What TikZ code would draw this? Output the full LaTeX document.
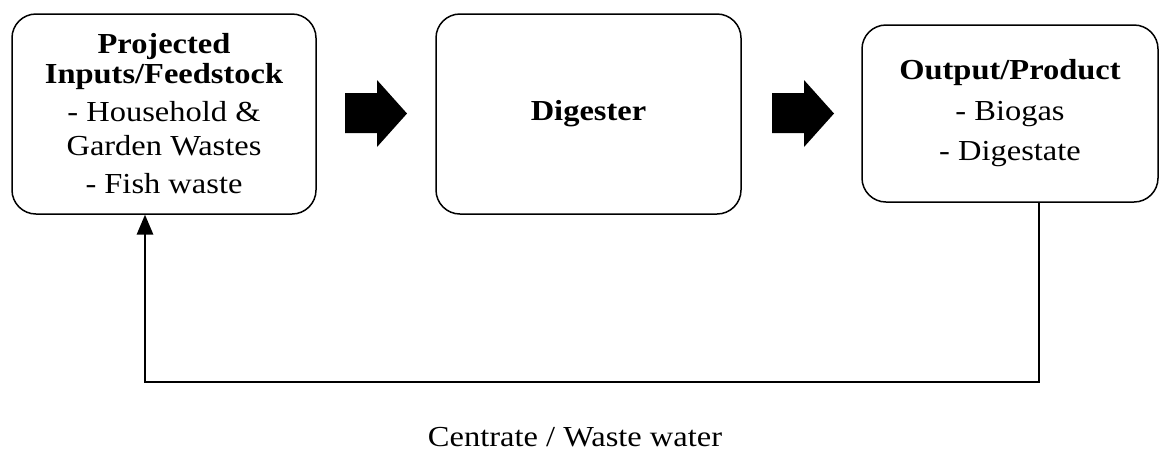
\documentclass[tikz,border=0pt]{standalone}
\usepackage{fontspec}
\setmainfont{Liberation Serif}[FakeStretch=1.12]
\usetikzlibrary{arrows}

\tikzset{
  box/.style={draw,rounded corners=12pt,line width=0.75pt,align=center,
    font=\fontsize{14.5}{15}\selectfont},
  feed/.style={line width=1.3pt,-triangle 45},
}

\begin{document}
\begin{tikzpicture}[x=0.5pt,y=-0.5pt]
\useasboundingbox (0,0) rectangle (1160,452);

\node[box,minimum width=152pt,minimum height=100pt] (in) at (164,114){\textbf{Projected}\\ \textbf{Inputs/Feedstock}\\[4pt] - Household \&\\[2pt] Garden Wastes\\[4pt] - Fish waste};
\node[box,minimum width=152.5pt,minimum height=100pt] (dig) at (588.5,114){\textbf{Digester}};
\node[box,minimum width=148pt,minimum height=88.5pt] (out) at (1010,113.5){\textbf{Output/Product}\\[5.5pt] - Biogas\\[5pt] - Digestate};

\foreach \d in {0,427}
  \fill[shift={(\d,0)}] (345,93) -- (377,93) -- (377,80) -- (407,113.5) -- (377,147) -- (377,133) -- (345,133) -- cycle;

\coordinate (r) at (1039,382);
\coordinate (l) at (145,382);
\draw[feed] (out.south -| r) -- (r) -- (l) -- (in.south -| l);

\node[font=\fontsize{14.5}{15}\selectfont] (cw) at (575,437){Centrate / Waste water};

\end{tikzpicture}
\end{document}
